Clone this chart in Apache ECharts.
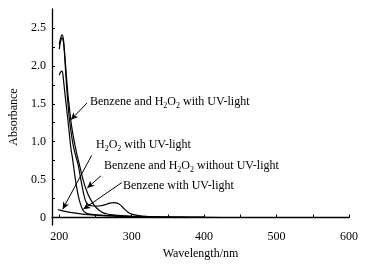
<!DOCTYPE html>
<html><head><meta charset="utf-8">
<script src="https://cdn.jsdelivr.net/npm/echarts@6/dist/echarts.min.js"></script>
<style>html,body{margin:0;padding:0;background:#fff}#c{width:368px;height:265px}</style>
</head><body><div id="c"></div>
<script>
// Wavelength grid (nm) for the three strong-absorbing samples
const wavelengths = [200,202,204,206,208,210,212,214,216,218,220,222,224,226,228,230,232,234,236,238,240,245,250,255,260,265,270,275,280,285,290,295,300,310,320,340,360,380,400];
// Benzene and H2O2 with UV-light
const benzH2O2UV = [1.88,1.92,1.93,1.80,1.62,1.45,1.28,1.10,0.92,0.80,0.66,0.52,0.40,0.30,0.22,0.16,0.11,0.08,0.065,0.055,0.05,0.042,0.037,0.033,0.03,0.027,0.025,0.023,0.021,0.019,0.017,0.015,0.013,0.01,0.008,0.005,0.003,0.002,0.001];
// Benzene with UV-light
const benzUV = [2.28,2.37,2.41,2.33,2.05,1.75,1.50,1.30,1.15,1.02,0.92,0.84,0.77,0.70,0.60,0.49,0.39,0.30,0.23,0.19,0.17,0.155,0.15,0.152,0.16,0.175,0.19,0.197,0.19,0.16,0.11,0.07,0.045,0.025,0.015,0.008,0.005,0.003,0.002];
// Benzene and H2O2 without UV-light
const benzH2O2Dark = [2.22,2.33,2.37,2.30,2.10,1.85,1.62,1.45,1.28,1.15,1.04,0.94,0.85,0.77,0.69,0.61,0.53,0.46,0.40,0.35,0.30,0.21,0.14,0.095,0.065,0.05,0.04,0.035,0.03,0.026,0.022,0.019,0.016,0.012,0.009,0.005,0.003,0.002,0.001];
// H2O2 with UV-light
const wavelengthsLow = [198,200,205,210,215,220,230,240,250,260,270,280,290,300,320,350,400,450,500,550,600];
const h2o2UV = [0.105,0.1,0.088,0.078,0.068,0.06,0.047,0.037,0.03,0.025,0.02,0.016,0.013,0.01,0.006,0.003,0.001,0,0,0,0];
// Axis ticks
const xLabels = [200,300,400,500,600];
const xTicks = [200,250,300,350,400,450,500,550,600];
const yLabels = [0,0.5,1.0,1.5,2.0,2.5];
const yTicks = [0,0.25,0.5,0.75,1.0,1.25,1.5,1.75,2.0,2.25,2.5];
// Annotation arrows: [from, to] in data units
const arrows = [
  [[238.3,1.51],[216.2,1.29]],
  [[244.8,0.82],[204.8,0.11]],
  [[257.6,0.55],[238.7,0.39]],
  [[286.2,0.46],[233.2,0.11]]
];

const font = 'Liberation Serif';
const zip = (xs, ys) => xs.map((x,i)=>[x, ys[i]]);
const lineSeries = (name, xs, ys) => ({
  name, type:'line', data: zip(xs, ys), symbol:'none', smooth:0.3,
  lineStyle:{color:'#000', width:1.2}, z:3
});

const chart = echarts.init(document.getElementById('c'));
const sub = {fontSize:8, fontFamily:font, color:'#000', verticalAlign:'bottom', lineHeight:15};
const txt = (left, top, text) => ({
  type:'text', left, top, z:10,
  style:{text, fontFamily:font, fontSize:12, fill:'#000', rich:{s:sub, n:{fontSize:12, fontFamily:font, lineHeight:15}}}
});
chart.setOption({
  animation:false,
  grid:{left:52, right:19, top:9, bottom:37},
  xAxis:{
    type:'value', min:190, max:600,
    name:'Wavelength/nm', nameLocation:'middle', nameGap:18,
    nameTextStyle:{fontFamily:font, fontSize:12, color:'#000'},
    axisLine:{lineStyle:{color:'#000', width:1.3}},
    axisTick:{inside:true, length:3, customValues:xTicks, lineStyle:{color:'#000'}},
    axisLabel:{customValues:xLabels, fontFamily:font, fontSize:12, color:'#000', margin:6},
    splitLine:{show:false}
  },
  yAxis:{
    type:'value', min:-0.1, max:2.75,
    name:'Absorbance', nameLocation:'middle', nameGap:21, nameRotate:90,
    nameTextStyle:{fontFamily:font, fontSize:12, color:'#000'},
    axisLine:{show:true, lineStyle:{color:'#000', width:1.3}},
    axisTick:{show:true, inside:true, length:3, customValues:yTicks, lineStyle:{color:'#000'}},
    axisLabel:{customValues:yLabels, fontFamily:font, fontSize:12, color:'#000', margin:6,
      formatter:v => v===0 ? '0' : v.toFixed(1)},
    splitLine:{show:false}
  },
  series:[
    lineSeries('Benzene and H2O2 with UV-light', wavelengths, benzH2O2UV),
    lineSeries('Benzene with UV-light', wavelengths, benzUV),
    lineSeries('Benzene and H2O2 without UV-light', wavelengths, benzH2O2Dark),
    lineSeries('H2O2 with UV-light', wavelengthsLow, h2o2UV),
    {
      type:'line', data:[], silent:true,
      markLine:{
        silent:true, animation:false,
        symbol:['none','arrow'], symbolSize:[5,7],
        lineStyle:{color:'#000', width:1, type:'solid'},
        label:{show:false}, emphasis:{disabled:true},
        data: arrows.map(a => [{coord:a[0]},{coord:a[1]}])
      }
    }
  ],
  graphic:[
    txt(90, 96, 'Benzene and H{s|2}O{s|2} with UV-light'),
    txt(96, 139, 'H{s|2}O{s|2} with UV-light'),
    txt(104, 160, 'Benzene and H{s|2}O{s|2} without UV-light'),
    txt(123, 180, 'Benzene with UV-light')
  ]
});
</script></body></html>
